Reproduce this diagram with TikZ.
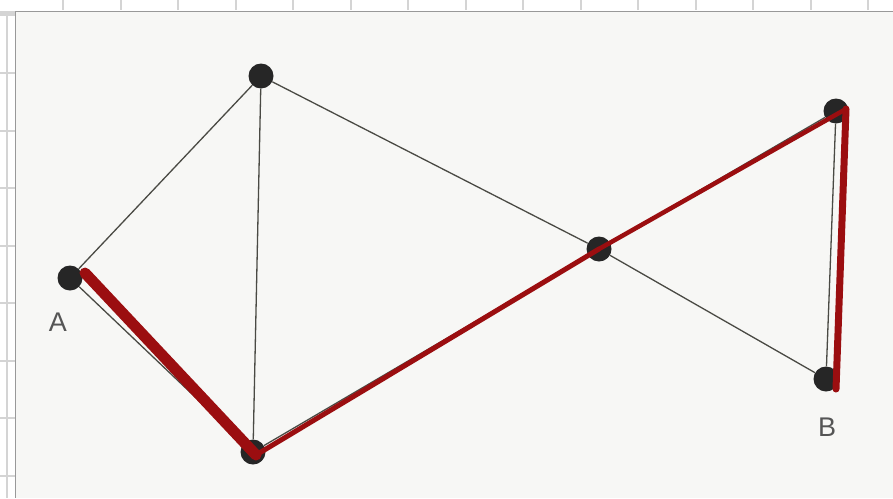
\documentclass[tikz,border=0pt]{standalone}
\usepackage{fontspec}
\setmainfont{Liberation Sans}
\usetikzlibrary{calc}
\definecolor{paper}{HTML}{F7F7F5}
\definecolor{gridgray}{HTML}{D4D4D4}
\definecolor{edgegray}{HTML}{4A4A44}
\definecolor{routered}{HTML}{9B0E10}
\definecolor{labelgray}{HTML}{555555}
\tikzset{
  vertex/.style={
    circle,
    fill=black!85,
    minimum size=25pt,
    inner sep=0pt
  },
  edge/.style={
    edgegray,
    line width=1.3pt
  },
  route/.style={
    routered,
    line cap=round,
    line join=round
  },
  vlabel/.style={
    labelgray,
    font=\fontsize{27}{30}\selectfont,
    inner sep=0pt
  }
}

\begin{document}
\begin{tikzpicture}[x=1pt,y=-1pt]
    \useasboundingbox (0,0) rectangle (893,498);

    % 方眼
    \foreach \i in {0,...,14}
        \draw[gridgray,line width=2pt] (63+57.5*\i,0) -- (63+57.5*\i,10);
    \foreach \j in {0,...,7}
        \draw[gridgray,line width=2pt] (0,73+57.5*\j) -- (15,73+57.5*\j);
    \draw[gridgray,line width=2pt] (7,15) -- (7,498);

    % 写真
    \fill[paper] (15,11) rectangle (893,498);
    \draw[gray!80,line width=1pt] (893,11) -- (15,11) -- (15,498);
    \fill[gridgray] (0,11) rectangle (15,16);

    % 頂点
    \node[vertex] (A) at (70,278) {};
    \node[vertex] (top) at (261,76) {};
    \node[vertex] (bot) at (253,452) {};
    \node[vertex] (mid) at (599,249) {};
    \node[vertex] (rtop) at (836,111) {};
    \node[vertex] (B) at (826,379) {};

    % ラベル
    \node[vlabel] (labA) at (58,322) {A};
    \node[vlabel] (labB) at (827,427) {B};

    % 辺
    \draw[edge] (A) -- (top);
    \draw[edge] (A) -- (bot);
    \draw[edge] (top) -- (bot);
    \draw[edge] (top) -- (mid);
    \draw[edge] (bot) -- (mid);
    \draw[edge] (mid) -- (rtop);
    \draw[edge] (mid) -- (B);
    \draw[edge] (rtop) -- (B);

    % 経路
    \coordinate (rA) at ([shift={(15,-5)}]A.center);
    \coordinate (rbot) at ([shift={(3,3)}]bot.center);
    \coordinate (rmid) at (mid.center);
    \coordinate (rrtop) at ([shift={(10,-2)}]rtop.center);
    \coordinate (rB) at ([shift={(10,10)}]B.center);
    \draw[route,line width=11pt] (rA) -- (rbot);
    \draw[route,line width=5pt] (rbot) -- (rmid);
    \draw[route,line width=4.5pt] (rmid) -- (rrtop);
    \draw[route,line width=7pt] (rrtop) -- (rB);
\end{tikzpicture}
\end{document}
